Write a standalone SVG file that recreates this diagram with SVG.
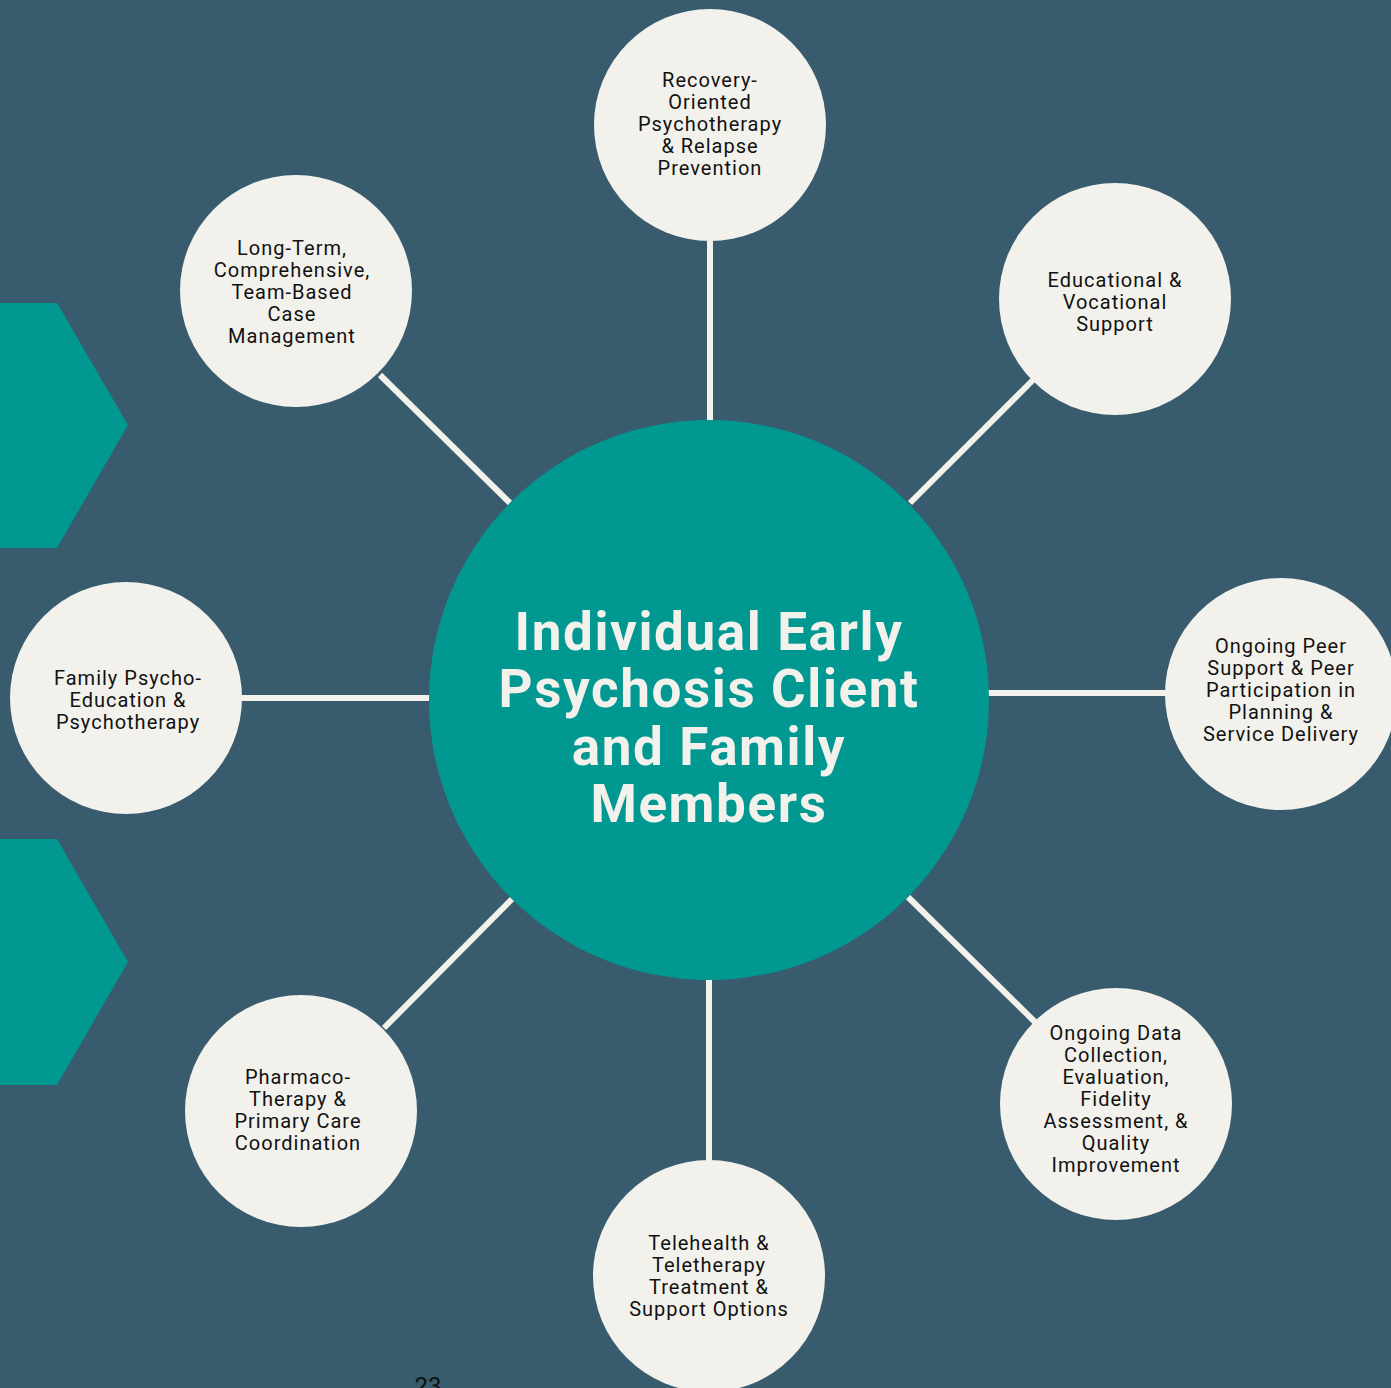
<svg xmlns="http://www.w3.org/2000/svg" width="1391" height="1388" viewBox="0 0 1391 1388">
<style>
.bg{fill:#385b6d}
.hex{fill:#009891}
.sat{fill:#f2f1ec}
.conn line{stroke:#f2f1ec;stroke-width:6}
.lbl{font-family:Roboto,"Liberation Sans",sans-serif;font-size:20px;fill:#111;text-anchor:middle;letter-spacing:1px}
.title{font-family:Roboto,"Liberation Sans",sans-serif;font-size:53px;font-weight:bold;fill:#f2f1ec;text-anchor:middle;letter-spacing:1.6px}
</style>
<rect class="bg" x="0" y="0" width="1391" height="1388"/>
<polygon class="hex" points="0,303 57,303 128,425 57,548 0,548"/>
<polygon class="hex" points="0,839 57,839 128,962 57,1085 0,1085"/>
<g id="connectors" class="conn">
<line x1="710" y1="241" x2="710" y2="422"/>
<line x1="1033" y1="380" x2="910" y2="503"/>
<line x1="987" y1="693" x2="1166" y2="693"/>
<line x1="908" y1="897" x2="1035" y2="1022"/>
<line x1="709" y1="978" x2="709" y2="1161"/>
<line x1="512" y1="899" x2="384" y2="1028"/>
<line x1="241" y1="698" x2="431" y2="698"/>
<line x1="380" y1="375" x2="510" y2="503"/>
</g>
<g id="center">
<circle cx="709" cy="700" r="280" fill="#009891"/>
<text class="title"><tspan x="709" y="650">Individual Early</tspan><tspan x="709" y="707">Psychosis Client</tspan><tspan x="709" y="765">and Family</tspan><tspan x="709" y="822">Members</tspan></text>
</g>
<g id="n-top">
<circle class="sat" cx="710" cy="125" r="116"/>
<text class="lbl"><tspan x="710" y="87">Recovery-</tspan><tspan x="710" y="109">Oriented</tspan><tspan x="710" y="131">Psychotherapy</tspan><tspan x="710" y="153">&amp; Relapse</tspan><tspan x="710" y="175">Prevention</tspan></text>
</g>
<g id="n-topright">
<circle class="sat" cx="1115" cy="299" r="116"/>
<text class="lbl"><tspan x="1115" y="287">Educational &amp;</tspan><tspan x="1115" y="309">Vocational</tspan><tspan x="1115" y="331">Support</tspan></text>
</g>
<g id="n-right">
<circle class="sat" cx="1281" cy="694" r="116"/>
<text class="lbl"><tspan x="1281" y="653">Ongoing Peer</tspan><tspan x="1281" y="675">Support &amp; Peer</tspan><tspan x="1281" y="697">Participation in</tspan><tspan x="1281" y="719">Planning &amp;</tspan><tspan x="1281" y="741">Service Delivery</tspan></text>
</g>
<g id="n-bottomright">
<circle class="sat" cx="1116" cy="1104" r="116"/>
<text class="lbl"><tspan x="1116" y="1040">Ongoing Data</tspan><tspan x="1116" y="1062">Collection,</tspan><tspan x="1116" y="1084">Evaluation,</tspan><tspan x="1116" y="1106">Fidelity</tspan><tspan x="1116" y="1128">Assessment, &amp;</tspan><tspan x="1116" y="1150">Quality</tspan><tspan x="1116" y="1172">Improvement</tspan></text>
</g>
<g id="n-bottom">
<circle class="sat" cx="709" cy="1276" r="116"/>
<text class="lbl"><tspan x="709" y="1250">Telehealth &amp;</tspan><tspan x="709" y="1272">Teletherapy</tspan><tspan x="709" y="1294">Treatment &amp;</tspan><tspan x="709" y="1316">Support Options</tspan></text>
</g>
<g id="n-bottomleft">
<circle class="sat" cx="301" cy="1111" r="116"/>
<text class="lbl"><tspan x="298" y="1084">Pharmaco-</tspan><tspan x="298" y="1106">Therapy &amp;</tspan><tspan x="298" y="1128">Primary Care</tspan><tspan x="298" y="1150">Coordination</tspan></text>
</g>
<g id="n-left">
<circle class="sat" cx="126" cy="698" r="116"/>
<text class="lbl"><tspan x="128" y="685">Family Psycho-</tspan><tspan x="128" y="707">Education &amp;</tspan><tspan x="128" y="729">Psychotherapy</tspan></text>
</g>
<g id="n-topleft">
<circle class="sat" cx="296" cy="291" r="116"/>
<text class="lbl"><tspan x="292" y="255">Long-Term,</tspan><tspan x="292" y="277">Comprehensive,</tspan><tspan x="292" y="299">Team-Based</tspan><tspan x="292" y="321">Case</tspan><tspan x="292" y="343">Management</tspan></text>
</g>
<text x="428" y="1394" font-family="Roboto,'Liberation Sans',sans-serif" font-size="24" fill="#111" text-anchor="middle">23</text>
</svg>
